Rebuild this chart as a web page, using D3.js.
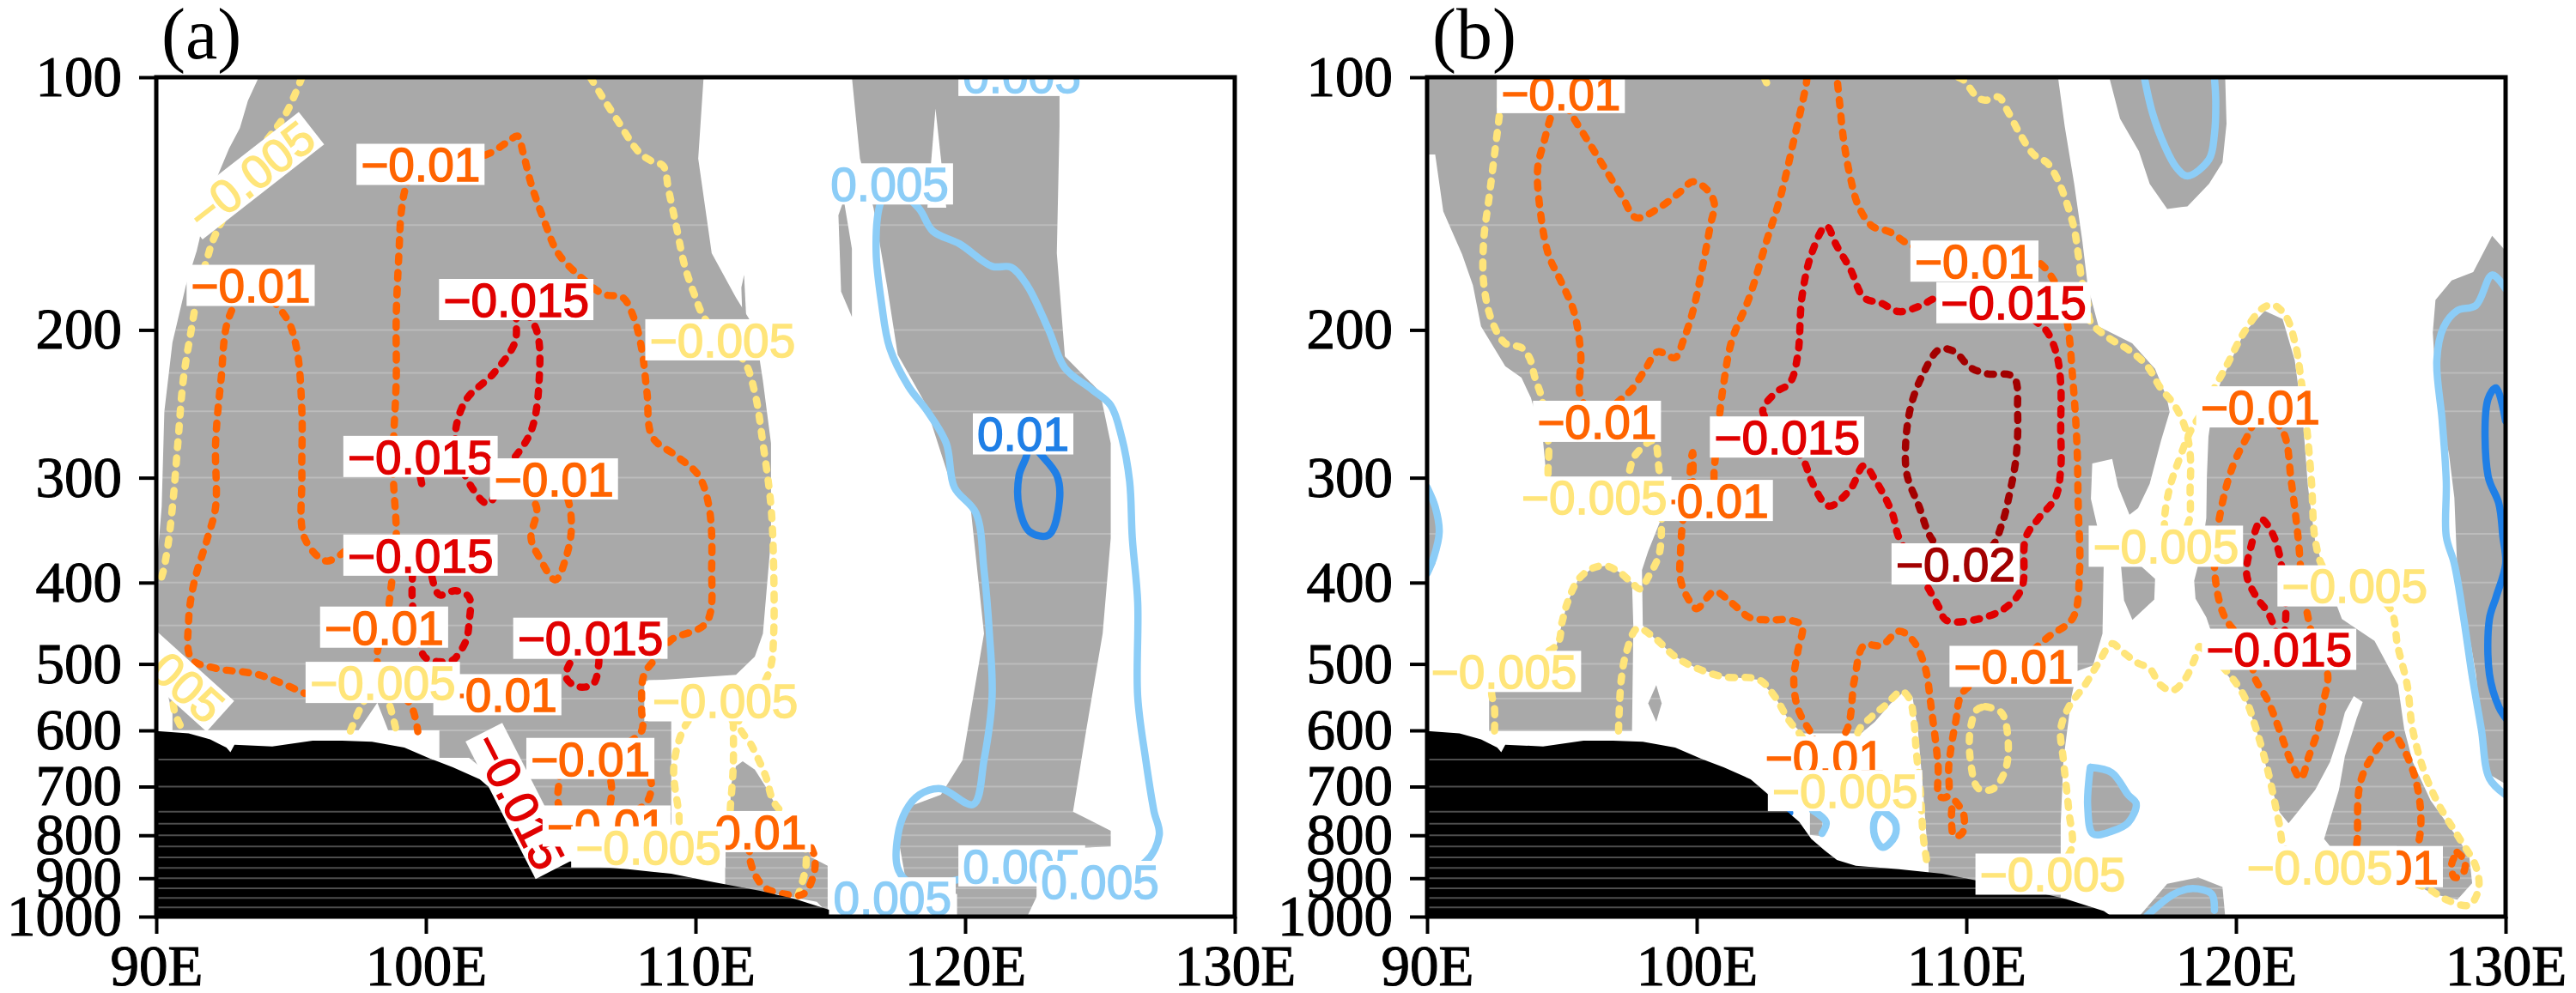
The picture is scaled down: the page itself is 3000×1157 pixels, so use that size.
<!DOCTYPE html>
<html>
<head>
<meta charset="utf-8">
<script src="https://cdn.jsdelivr.net/npm/d3@7"></script>
<style>
body { margin: 0; background: #fff; }
</style>
</head>
<body>
<svg id="chart" width="3000" height="1157"></svg>
<script>
// axis ticks
var pTicks = [100, 200, 300, 400, 500, 600, 700, 800, 900, 1000];
var lonTicks = [90, 100, 110, 120, 130];
var gridLevels = [150, 200, 225, 250, 300, 350, 400, 450, 500, 550, 600, 650, 700, 750, 775, 800, 825, 850, 875, 900, 925, 950, 975];

// contour levels and their colours
var levels = [-0.02, -0.015, -0.01, -0.005, 0.005, 0.01];
var levelColors = ["#a30000", "#e00000", "#ff6400", "#ffe57a", "#8ccdf7", "#1f7fe6"];

// surface pressure (lon, hPa) - same topography in both panels
var terrain = [[90,601],[91.2,605],[92,615],[92.6,629],[92.75,637],[92.9,624],[94.3,627],[95.8,617],[96.9,617],[98,619],[99.2,629],[100.2,649],[101,664],[102,686],[102.6,713],[103.3,747],[103.8,771],[104.25,808],[104.75,834],[105.2,856],[105.9,870],[106.7,874],[107.5,878],[109.1,889],[110.7,910],[112.4,932],[113.7,953],[115.1,985],[115.4,1000]];

// ---- panel (a) ----
var shadeA = [
  [[93.8,100],[110.3,100],[110.1,125],[110.6,162],[111.5,183],[112.2,199],[112.5,230],[112.8,273],[112.8,354],[112.5,460],[112.2,490],[111.5,515],[108.1,524],[108.1,585],[109.1,585],[109.1,777],[104.7,777],[103.7,733],[101.6,647],[100.5,647],[100.5,600],[98.6,600],[98.2,556],[97.5,600],[90.6,600],[90.6,573],[90,479],[90,390],[90.2,325],[90.3,250],[90.6,207],[91.1,177],[91.5,161],[91.6,156],[91.9,140],[92.3,130.5],[92.7,121.6],[93.1,115],[93.4,106.6]],
  [[111.3,700],[111.5,662],[111.75,653],[112.2,668],[112.6,700],[113.0,740],[113.5,785],[114.0,813],[114.3,850],[114.9,870],[114.9,990],[114.5,960],[113.0,940],[111.1,930],[111.1,830],[111.3,790]],
  [[115.8,100],[123.5,100],[123.5,114.5],[123.4,162],[123.7,215],[125.0,237],[125.4,273],[125.4,354],[125.1,460],[124.5,597],[124.0,750],[125.4,790],[125.4,825],[123.5,830],[122.3,1000],[119.7,1000],[119.7,940],[117.8,905],[117.5,800],[117.8,742],[119.1,716],[119.9,651],[120.7,460],[120.2,325],[119.4,300],[118.5,244],[117.5,214],[117.1,177],[116.6,143],[116.1,125]],
  [[115.3,146],[115.5,140],[115.8,160],[115.8,193],[115.4,180]],
  [[111.7,178],[111.8,172],[111.9,199],[111.75,199]]
];
var holesA = [
  [[118.6,143],[118.9,109],[119.3,143]]
];
var linesA = [
  [-0.005, [[95.4,100],[94.8,110.6],[93.8,122.8],[92.1,156.5],[91.9,164],[91.6,176.8],[91.3,199.7],[91.0,229.5],[90.8,273],[90.6,324.8],[90.4,366.9],[90.2,393.3],[90.0,403.6]]],
  [-0.005, [[106.1,100],[106.5,105],[107.1,112.5],[107.9,122.8],[108.4,126],[108.8,127.5],[109.0,136.2],[109.3,151.2],[109.6,167.8],[110.0,183],[110.3,192.9],[111.0,205.7],[111.8,217.8],[112.2,237.6],[112.5,273],[112.8,324.8],[112.9,386.5],[112.9,460],[112.8,501.6],[112.5,530],[111.6,586.5],[112.1,627],[112.6,680],[112.9,730],[113.6,775],[114.0,813],[114.1,868],[113.8,944]]],
  [-0.005, [[111.4,586.5],[111.4,660],[111.3,735],[111.2,788],[110.6,830],[109.3,826],[109.4,771],[109.2,660],[109.7,586.5],[110.6,555],[111.4,586.5]]],
  [-0.005, [[97.2,601],[97.7,554],[98.2,528],[98.6,554],[98.9,601]]],
  [-0.005, [[90,493],[90.5,528.5],[90.7,573],[91.0,601]]],
  [-0.01, [[97.0,367],[96.3,377],[95.5,354],[95.4,298],[95.4,250],[95.2,210],[94.8,193],[93.5,177],[92.7,193],[92.4,229.5],[92.2,273],[92.2,325],[91.9,354],[91.4,400],[91.2,444],[91.3,493],[92.2,506],[93.8,515],[95.5,542]]],
  [-0.01, [[99.8,126.6],[99.3,134],[99.1,143.5],[99.0,162],[98.9,193],[98.9,229.5],[98.8,273],[98.8,303],[98.9,354],[98.7,407],[98.5,452],[98.2,484.5],[98.4,528.5],[99.4,557],[99.7,602]]],
  [-0.01, [[99.8,126.6],[102.2,123.8],[103.0,119.6],[103.4,117.5],[103.6,122.8],[103.9,133.9],[104.4,148.6],[104.9,162],[105.8,173.7],[106.6,181.4],[107.3,183],[107.7,193],[108.0,210.4],[108.2,237.6],[108.4,268.3],[109.3,282.7],[110.1,297.8],[110.5,324.8],[110.6,382.5],[110.4,446.5],[109.1,468],[108.8,482.8],[108.1,514],[108.0,564.5],[108.0,601],[107.1,640],[108.3,681],[108.2,730],[107.1,768]]],
  [-0.01, [[104.9,640],[104.95,681],[104.9,730],[105.2,775],[106.5,775],[106.85,730],[106.8,681],[106.1,645]]],
  [-0.01, [[103.3,301],[104.1,325],[103.9,354],[104.2,373],[104.8,397],[105.2,373],[105.4,342],[105.2,314],[104.75,301]]],
  [-0.01, [[112.3,790],[112.0,838],[112.2,890],[112.6,925],[113.3,940],[114.0,940],[114.4,886],[114.4,845],[114.0,795]]],
  [-0.015, [[103.35,184],[104.1,200],[104.2,229.5],[103.9,264],[103.0,293],[102.3,322],[101.7,308],[101.2,283],[101.1,264],[101.5,242],[102.5,225.5],[103.3,207],[103.35,194.5],[103.35,184]]],
  [-0.015, [[99.5,373],[99.5,391],[99.5,423],[99.8,479.5],[100.0,492],[100.5,497],[101.0,494.7],[101.2,487],[101.5,468],[101.6,446.5],[101.6,416.5],[101.1,409],[100.5,413.6],[100.2,391],[100.1,373]]],
  [-0.015, [[106.1,466],[105.4,495],[105.2,518.5],[105.6,532],[106.2,528.5],[106.4,502.5],[106.4,490],[106.1,466]]],
  [-0.015, [[99.8,300],[99.9,311]]],
  [0.005, [[117.2,133],[118.3,143.5],[118.8,152.5],[119.8,158],[121.0,168],[121.7,168.4],[122.3,177],[123.1,200],[123.7,222],[124.7,235.5],[125.4,246],[125.8,268],[126.1,303],[126.2,354],[126.4,422],[126.4,547],[126.7,651],[127.0,748],[127.2,799],[126.7,860],[125.0,909],[122.1,863],[120.1,898],[118.8,914],[117.9,909],[117.5,875],[117.5,802],[117.8,748],[118.3,716],[119.1,704],[120.3,735],[120.7,651],[121.0,547],[120.9,460],[120.7,386.5],[120.4,330.5],[119.6,308],[119.3,273],[118.6,250],[117.9,233.5],[117.2,210],[116.9,186],[116.7,162],[116.8,143.5],[117.2,133]]],
  [0.01, [[122.15,266],[122.3,280],[122.0,298],[122.0,325],[122.4,348],[123.1,351],[123.5,319],[123.4,298],[122.75,280],[122.15,266]]]
];
var labelsA = [
  [-0.005, 93.5, 131, -38],
  [-0.01, 99.8, 127],
  [-0.01, 93.5, 177],
  [-0.015, 103.35, 184],
  [-0.005, 111.0, 205.5],
  [0.005, 117.2, 134],
  [0.005, 122.1, 99.5],
  [0.01, 122.15, 266],
  [-0.015, 99.8, 283],
  [-0.01, 104.75, 301],
  [-0.015, 99.8, 371],
  [-0.01, 98.45, 452],
  [-0.015, 106.1, 466],
  [-0.01, 102.65, 544],
  [-0.005, 98.4, 526],
  [-0.005, 90.25, 501, 42],
  [-0.005, 111.1, 553],
  [-0.015, 103.45, 728, 63],
  [-0.01, 106.1, 648],
  [-0.01, 106.7, 780],
  [-0.01, 111.9, 792],
  [-0.005, 108.25, 826],
  [0.005, 117.3, 950],
  [0.005, 122.1, 870],
  [0.005, 125.0, 908]
];

// ---- panel (b) ----
var shadeB = [
  [[90,100],[113.4,100],[113.65,114.5],[114.0,134],[114.3,156.5],[114.5,177],[114.9,198],[116.15,207.5],[117.0,222.5],[117.43,240.5],[117.54,250.5],[117.22,271],[116.8,305],[116.37,326],[116.05,332],[115.63,307.5],[115.41,285],[114.67,288.5],[114.62,318],[115.1,371],[115.05,460],[114.7,502],[114.1,510],[113.9,547],[113.6,651],[113.5,775],[113.5,988],[108.6,906],[108.6,867],[108.4,710],[108.2,597],[108.0,547],[107.7,539],[107.2,557],[106.6,586.5],[106.1,605],[103.9,605],[103.4,582.5],[102.9,547],[102.3,522],[101.0,517.5],[100.0,506],[99.2,490],[98.4,465],[98.0,450],[97.97,386.5],[98.2,367],[98.7,334.6],[95.55,325],[94.5,317],[94.3,271],[93.85,241],[93.5,228],[92.9,221],[92.0,198],[91.7,177],[91.3,162.6],[90.6,144.5],[90.3,123.6],[90.0,123.6]],
  [[115.73,380],[116.5,383],[117.0,396],[116.97,419],[116.16,443],[115.85,420]],
  [[92.3,601],[92.3,538],[94.8,533],[94.8,475],[95.2,423],[95.6,397],[96.1,385],[96.6,382],[97.1,388],[97.6,400],[97.65,452],[97.6,601]],
  [[98.5,530],[98.7,557],[98.5,586],[98.2,557]],
  [[104.2,746],[104.7,761],[104.6,802],[104.2,799]],
  [[90,303],[90.35,319],[90.5,348],[90.3,380],[90,397]],
  [[115.3,100],[115.7,112],[116.4,122.5],[116.8,134],[117.45,143.5],[118.2,142.5],[119.0,134],[119.5,126.3],[119.65,113.6],[119.6,100]],
  [[119.43,231],[120.31,201.3],[121.07,189.8],[121.73,194.1],[122.18,217.4],[122.5,260.5],[122.67,307.6],[122.94,357.7],[123.38,397.2],[123.93,442],[125.14,469.4],[125.58,498.6],[126.01,529.7],[126.24,597.8],[126.56,654.5],[127.22,727.3],[128.1,796.5],[128.65,846],[128.76,912],[128.21,954.3],[127.33,940],[126.13,897],[125.03,884],[123.93,858],[123.27,808],[123.82,706],[124.04,644],[124.48,580],[124.7,555],[124.37,546],[124.04,571],[123.82,607],[123.49,654],[122.94,706],[122.28,751],[121.95,774],[121.62,751],[121.4,716],[121.18,674],[120.75,598],[120.31,546],[119.65,514],[119.2,470],[118.9,440],[118.5,418],[118.45,398],[118.7,370],[118.9,335],[118.92,300],[118.98,268],[119.15,245]],
  [[130,161],[129.5,154.5],[128.8,170.7],[128.0,174.6],[127.4,184.2],[127.3,201.3],[127.45,241.7],[127.9,281],[128.1,317],[128.2,380],[128.55,442],[128.9,514],[129.1,598],[129.3,674],[130,695]],
  [[114.6,664],[115.4,674],[116.0,716],[116.3,733.5],[116.0,773],[115.4,791],[114.7,797],[114.5,739],[114.55,684.5]],
  [[116.4,1000],[117.45,914],[118.6,898],[119.5,922],[119.6,1000]]
];
var holesB = [];
var linesB = [
  [-0.005, [[92.5,601],[92.5,564.5],[92.4,537],[92.8,510],[94.8,475],[95.0,446.5],[95.2,423],[95.6,397],[96.1,385],[96.6,382],[97.1,388],[97.6,400.5],[97.9,407],[98.2,394],[98.6,370.6],[98.7,337],[98.7,317],[98.6,293],[98.4,271],[97.7,282.5],[97.3,305],[96.2,316],[94.65,310],[94.5,273],[94.25,241],[94.0,228],[93.8,216],[93.5,210],[92.9,207.5],[92.4,195],[92.1,176],[92.1,156.4],[92.3,139],[92.5,123.6],[92.7,109.4],[92.8,100]]],
  [-0.005, [[97.1,601],[97.2,522],[97.4,483],[97.8,453.5],[98.4,464.5],[99.2,490],[100.0,506],[101.0,518],[102.3,522],[102.9,547],[103.4,582.5],[103.9,610.5],[104.45,651],[105.2,704],[105.9,651],[106.0,601],[106.5,577.4],[107.0,560],[107.6,539],[107.9,551],[108.06,587],[108.14,634],[108.3,713],[108.4,802],[108.55,866.5]]],
  [-0.005, [[102.5,100],[102.65,102.5]]],
  [-0.005, [[109.7,100],[109.9,100.8],[110.4,105.6],[110.7,106.5],[111.2,105.6],[111.55,110],[112.0,117],[112.5,123.6],[113.0,126.5],[113.35,131.7],[113.65,139],[114.0,151.5],[114.15,162.6],[114.3,176],[114.5,185.8],[114.6,195.5],[115.3,204.6],[116.0,211],[116.7,220.7],[117.2,234.5],[117.7,245.3],[118.1,260.6],[118.3,281],[118.3,307.6],[118.2,342],[117.4,362]]],
  [-0.005, [[117.4,362],[117.35,336],[117.55,307.6],[117.9,285],[118.3,264.5],[118.8,248.8],[119.2,234.5],[119.65,220.7],[120.3,201.3],[121.0,188.3],[121.4,186.9],[121.85,192.6],[122.2,207.8],[122.4,227.5],[122.6,256.7],[122.8,303],[122.95,357.6],[123.3,386],[124.4,403.6],[125.7,428.8],[126.0,476.6],[126.35,529.7],[126.55,597.8],[127.0,674.4],[127.55,738.4],[128.3,808],[128.9,872],[129.0,925.7],[128.65,969],[127.8,954.6],[127.1,925.7],[125.9,898],[123.1,872]]],
  [-0.005, [[123.1,872],[121.85,833],[121.6,773],[121.2,674],[120.75,598],[120.3,546],[119.65,510],[118.9,484.5],[118.65,476.6],[118.45,495],[118.1,521.7],[117.65,537.7],[117.2,529.7],[116.8,506.3],[116.35,498.6],[115.8,483.8],[115.4,473],[114.9,498.6],[114.4,529.7],[113.8,562.6],[113.5,597.8],[113.6,651],[113.8,748],[113.9,830],[113.2,890]]],
  [-0.005, [[110.7,562],[111.3,571.5],[111.55,618],[111.45,668],[111.0,704],[110.45,704],[110.15,651],[110.15,597],[110.4,566.5],[110.7,562]]],
  [-0.01, [[96.35,255.5],[95.7,241],[95.7,214],[95.45,190.4],[95.0,176],[94.5,162.6],[94.2,144.5],[94.1,128.5],[94.35,118.9],[94.65,109.9],[94.95,104.3],[95.3,109.9],[95.95,118.9],[96.6,128.5],[97.25,139],[97.75,147],[98.7,142.4],[99.4,136.8],[99.85,133.2],[100.35,135.8],[100.65,141.2],[100.5,150.4],[100.2,169.2],[99.85,190.4],[99.5,206],[99.2,215.8],[98.55,212.4],[98.1,222.6],[97.6,235.3],[97.25,241],[96.35,255.5]]],
  [-0.01, [[104.07,100],[104.08,100.8],[103.6,118.9],[103.1,139],[102.6,156.4],[101.95,183],[101.3,206],[101.0,231.6],[100.8,260.6],[100.65,293],[100.55,319],[100.0,325],[99.85,280],[99.65,319],[99.5,334.6],[99.4,367.5],[99.4,397],[99.7,419],[100.0,429.6],[100.65,410],[101.3,423],[101.95,440],[102.6,443.2],[103.4,443.2],[103.9,450],[103.75,482.8],[103.6,522],[103.75,564.5],[104.25,605],[104.75,640],[105.55,601],[105.85,522],[106.2,475.3],[106.85,475.3],[107.5,457],[108.0,468],[108.45,502],[108.7,564.5],[108.95,660],[109.0,719],[109.3,719],[109.35,660],[109.6,587],[109.9,539],[111.8,501.6],[113.05,464],[113.95,440.8],[114.2,386.5],[114.15,324.8],[114.1,273],[113.95,229.5],[113.7,193],[113.2,173.7],[112.5,165],[110.3,165.6],[108.0,158.9],[107.15,152.8],[106.5,150.4],[106.0,142.4],[105.7,131.7],[105.45,118.9],[105.3,107.3],[105.2,100]]],
  [-0.01, [[109.6,729],[109.9,755],[109.85,795],[109.55,802],[109.45,768],[109.5,735],[109.6,729]]],
  [-0.01, [[120.9,247],[120.5,264.5],[119.9,289.6],[119.45,326.7],[119.2,380],[119.45,428.8],[119.75,448.5],[120.65,483.8],[120.65,514],[121.2,554.5],[121.6,597.8],[122.05,654.5],[122.4,684.5],[122.7,644.5],[123.05,598],[123.25,554.5],[123.4,514],[123.0,483.8],[122.5,410],[122.3,352.4],[122.05,303],[121.75,264.5],[120.9,247]]],
  [-0.01, [[125.4,872],[124.45,872],[124.5,808],[124.6,695],[125.05,644.5],[125.8,606.5],[126.25,634.6],[126.65,684.5],[126.85,749.6],[126.8,808],[126.45,872]]],
  [-0.01, [[128.2,838],[128.5,860],[128.4,890],[128.1,898],[128.0,866],[128.2,838]]],
  [-0.015, [[103.35,268.3],[104.0,287.7],[104.25,302.4],[104.9,324.3],[105.7,309.5],[106.2,290.2],[106.65,303],[107.25,330.5],[107.5,353.7],[108.3,391.2],[108.95,426],[109.25,443.4],[110.25,443.4],[111.4,429.8],[112.05,406.5],[112.2,353.7],[112.65,336.3],[113.3,317],[113.5,293.2],[113.5,260.6],[113.5,231.4],[113.35,214],[113.0,201.1],[112.55,195],[111.75,185.6],[108.95,183],[108.3,187.2],[107.5,190.2],[106.85,185.9],[106.2,183],[105.7,169.3],[105.2,159],[104.8,150.4],[104.25,162.6],[103.9,183],[103.75,214],[103.45,231.4],[102.95,237.2],[102.45,250.3],[103.35,268.3]]],
  [-0.015, [[121.7,483.8],[121.85,435],[121.6,369],[121.3,347],[120.95,336.4],[120.55,363],[120.4,392],[120.75,415.7],[121.2,435],[121.5,460],[121.7,483.8]]],
  [-0.02, [[109.6,380],[108.7,354.3],[108.25,324.8],[107.8,297.8],[107.75,273],[107.95,246],[108.4,225.5],[109.0,211],[109.55,212.2],[110.15,221.7],[110.75,225.5],[111.75,227.5],[111.9,250.3],[111.85,282.7],[111.6,313.8],[111.3,342.2],[110.9,363.7],[109.6,380]]],
  [0.005, [[116.6,100],[116.9,110.2],[117.35,120.6],[117.8,128.2],[118.2,131.1],[119.0,125.3],[119.2,117],[119.25,106.9],[119.2,100]]],
  [0.005, [[130,178.7],[129.5,172],[128.9,187],[128.2,189.7],[127.7,198.5],[127.45,217.4],[127.65,256.7],[127.8,303],[127.8,352.4],[128.1,380],[128.45,442],[128.75,514],[129.1,598],[129.4,684.5],[130,716]]],
  [0.005, [[114.6,664],[115.4,674],[116.0,716],[116.3,733.5],[116.0,773],[115.4,791],[114.7,797],[114.5,739],[114.55,684.5],[114.6,664]]],
  [0.005, [[116.7,998],[117.7,940],[118.4,926],[119.1,940],[119.2,983]]],
  [0.005, [[104.3,747],[104.8,771.5],[104.65,796]]],
  [0.005, [[90,308],[90.3,325],[90.45,348],[90.25,373],[90,390]]],
  [0.005, [[106.85,747],[107.35,771.5],[107.35,802],[106.9,827],[106.6,802],[106.6,766],[106.85,747]]],
  [0.01, [[130,256.7],[129.65,234.5],[129.35,241.7],[129.35,298.5],[129.75,322],[129.9,352.4],[130,380],[129.65,416],[129.4,442],[129.4,514],[129.75,562.6],[130,580]]],
  [0.01, [[103.4,745],[103.45,752]]]
];
var labelsB = [
  [-0.01, 94.96, 104.3],
  [-0.01, 110.3, 165.6],
  [-0.015, 111.75, 185.6],
  [-0.01, 96.3, 257],
  [-0.015, 103.35, 268.3],
  [-0.01, 120.9, 247],
  [-0.01, 100.45, 319.3],
  [-0.005, 96.2, 316.4],
  [-0.02, 109.6, 380],
  [-0.005, 117.4, 362],
  [-0.005, 124.4, 403.6],
  [-0.015, 121.6, 480.3],
  [-0.005, 92.85, 510.4],
  [-0.01, 111.75, 503.4],
  [-0.01, 104.75, 645.4],
  [-0.005, 105.5, 707.7],
  [-0.005, 113.2, 890],
  [-0.01, 125.3, 872],
  [-0.005, 123.1, 872]
];

var svg = d3.select("#chart");
var pw = 1256, top0 = 90, bot0 = 1068;
var color = d3.scaleOrdinal().domain(levels).range(levelColors);
var y = d3.scaleLog().domain([100, 1000]).range([top0, bot0]);

function fmt(v) {
  return (v < 0 ? "\u2212" : "") + Math.abs(v);
}

function drawPanel(x0, tag, id, shade, holes, lines, labels) {
  var x = d3.scaleLinear().domain([90, 130]).range([x0, x0 + pw]);
  var g = svg.append("g");

  g.append("clipPath").attr("id", "clip" + id)
    .append("rect").attr("x", x0).attr("y", top0).attr("width", pw).attr("height", bot0 - top0);

  var plot = g.append("g").attr("clip-path", "url(#clip" + id + ")");

  var area = d3.line().x(function(d) { return x(d[0]); }).y(function(d) { return y(d[1]); })
    .curve(d3.curveLinearClosed);
  var path = d3.line().x(function(d) { return x(d[0]); }).y(function(d) { return y(d[1]); })
    .curve(d3.curveCatmullRom.alpha(0.5));

  plot.selectAll(".shade").data(shade).enter().append("path")
    .attr("d", area).attr("fill", "#a9a9a9");
  plot.selectAll(".hole").data(holes).enter().append("path")
    .attr("d", area).attr("fill", "#fff");

  // faint level rows visible inside the shading
  plot.selectAll(".row").data(gridLevels).enter().append("line")
    .attr("x1", x0).attr("x2", x0 + pw)
    .attr("y1", function(d) { return y(d); }).attr("y2", function(d) { return y(d); })
    .attr("stroke", "#fff").attr("stroke-opacity", 0.22).attr("stroke-width", 2);

  plot.selectAll(".cn").data(lines).enter().append("path")
    .attr("d", function(d) { return path(d[1]); })
    .attr("fill", "none")
    .attr("stroke", function(d) { return color(d[0]); })
    .attr("stroke-width", 8.5)
    .attr("stroke-linecap", "round")
    .attr("stroke-linejoin", "round")
    .attr("stroke-dasharray", function(d) { return d[0] < 0 ? "7,12" : null; });

  // topography
  var topo = terrain.concat([[115.4, 1000], [90, 1000]]);
  plot.append("path").attr("d", area(topo)).attr("fill", "#000");
  g.append("clipPath").attr("id", "topo" + id).append("path").attr("d", area(topo));
  plot.append("g").attr("clip-path", "url(#topo" + id + ")")
    .selectAll("line").data(gridLevels.filter(function(p) { return p > 600; })).enter().append("line")
    .attr("x1", x0).attr("x2", x(115.4))
    .attr("y1", function(d) { return y(d); }).attr("y2", function(d) { return y(d); })
    .attr("stroke", "#fff").attr("stroke-opacity", 0.3).attr("stroke-width", 2);

  labels.forEach(function(d) {
    var lg = plot.append("g")
      .attr("transform", "translate(" + x(d[1]) + "," + y(d[2]) + ") rotate(" + (d[3] || 0) + ")");
    var rect = lg.append("rect").attr("fill", "#fff");
    var t = lg.append("text").text(fmt(d[0]))
      .attr("text-anchor", "middle")
      .attr("dy", "0.36em")
      .attr("font-family", "Liberation Sans, Arial, sans-serif")
      .attr("font-size", 55)
      .attr("fill", color(d[0]))
      .attr("stroke", color(d[0]))
      .attr("stroke-width", 1.4);
    var w = t.node().getComputedTextLength();
    rect.attr("x", -w / 2 - 5).attr("y", -24).attr("width", w + 10).attr("height", 48);
  });

  g.append("rect").attr("x", x0).attr("y", top0).attr("width", pw).attr("height", bot0 - top0)
    .attr("fill", "none").attr("stroke", "#000").attr("stroke-width", 5);

  var yAxis = d3.axisLeft(y).tickValues(pTicks).tickFormat(d3.format("d"))
    .tickSize(20).tickPadding(20).tickSizeOuter(0);
  var xAxis = d3.axisBottom(x).tickValues(lonTicks).tickFormat(function(d) { return d + "E"; })
    .tickSize(20).tickPadding(12).tickSizeOuter(0);

  function styleAxis(a) {
    a.select(".domain").remove();
    a.selectAll("line").attr("stroke", "#000").attr("stroke-width", 4);
    a.selectAll("text").attr("font-family", "Liberation Serif, serif").attr("font-size", 67)
      .attr("fill", "#000").attr("stroke", "#000").attr("stroke-width", 1.1);
  }

  g.append("g").attr("transform", "translate(" + x0 + ",0)").call(yAxis).call(styleAxis);
  g.append("g").attr("transform", "translate(0," + bot0 + ")").call(xAxis).call(styleAxis);

  g.append("text").attr("x", x0 + 6).attr("y", 68).text(tag)
    .attr("font-family", "Liberation Serif, serif").attr("font-size", 84).attr("fill", "#000");
}

drawPanel(182, "(a)", "a", shadeA, holesA, linesA, labelsA);
drawPanel(1662, "(b)", "b", shadeB, holesB, linesB, labelsB);
</script>
</body>
</html>
